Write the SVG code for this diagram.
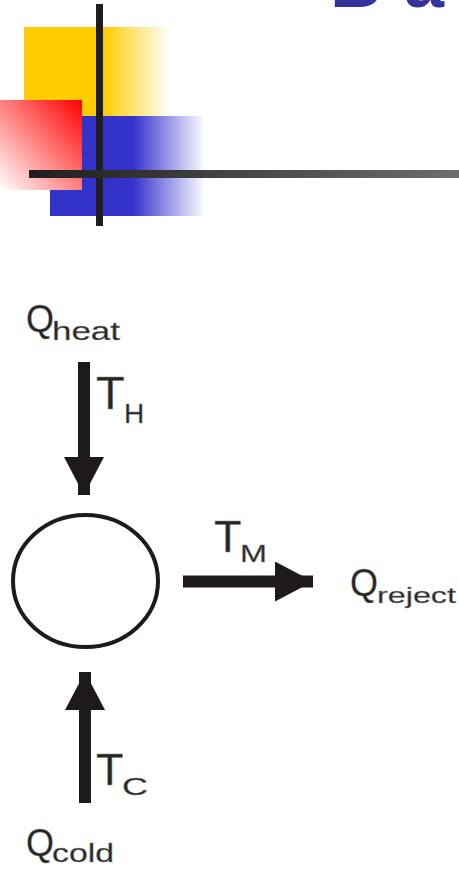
<svg xmlns="http://www.w3.org/2000/svg" width="459" height="878" viewBox="0 0 459 878">
<defs>
<linearGradient id="gY" gradientUnits="userSpaceOnUse" x1="24" y1="0" x2="170" y2="0">
<stop offset="0" stop-color="#ffcc00"/><stop offset="0.54" stop-color="#ffcc00"/><stop offset="1" stop-color="#ffcc00" stop-opacity="0"/>
</linearGradient>
<linearGradient id="gB" gradientUnits="userSpaceOnUse" x1="50" y1="0" x2="205" y2="0">
<stop offset="0" stop-color="#3333cc"/><stop offset="0.535" stop-color="#3333cc"/><stop offset="1" stop-color="#3333cc" stop-opacity="0"/>
</linearGradient>
<linearGradient id="gR" x1="1" y1="0" x2="0" y2="1">
<stop offset="0" stop-color="#ff0000"/><stop offset="1" stop-color="#ffffff"/>
</linearGradient>
<linearGradient id="gL" gradientUnits="userSpaceOnUse" x1="29" y1="0" x2="459" y2="0">
<stop offset="0" stop-color="#1e1e1e"/><stop offset="1" stop-color="#6e6e6e"/>
</linearGradient>
<marker id="ah" markerUnits="userSpaceOnUse" viewBox="0 0 38 40" refX="38" refY="20" markerWidth="38" markerHeight="40" orient="auto">
<path d="M0,0 L38,20 L0,40 Z" fill="#1e1a1a"/>
</marker>
</defs>
<style>
.lbl{font-family:"Liberation Sans",Arial,sans-serif;fill:#262626;stroke:#8a8a8a;stroke-width:0.4}
.shaft{stroke:#1e1a1a;stroke-width:12;fill:none}
</style>
<g id="decoration">
<rect x="24" y="27" width="146" height="89" fill="url(#gY)"/>
<rect x="50" y="116" width="155" height="100" fill="url(#gB)"/>
<rect x="0" y="100" width="82" height="90" fill="url(#gR)"/>
<rect x="96" y="4" width="7" height="222" fill="#1e1e1e"/>
<rect x="29" y="170" width="430" height="8" fill="url(#gL)"/>
<text x="330 404" y="7" font-family="Liberation Sans, Arial, sans-serif" font-weight="bold" font-size="72" fill="#333399">Ba</text>
</g>
<g id="engine">
<ellipse cx="85.5" cy="581" rx="72.5" ry="66" fill="none" stroke="#1e1a1a" stroke-width="4"/>
</g>
<g id="connectors">
<line class="shaft" x1="84" y1="362" x2="84" y2="495" marker-end="url(#ah)"/>
<line class="shaft" x1="183" y1="581.5" x2="313" y2="581.5" marker-end="url(#ah)"/>
<line class="shaft" x1="85" y1="803" x2="85" y2="672" marker-end="url(#ah)"/>
</g>
<g id="q-heat">
<text class="lbl" x="26" y="332" font-size="38" textLength="28" lengthAdjust="spacingAndGlyphs">Q</text>
<text class="lbl" x="52" y="340" font-size="25" textLength="68" lengthAdjust="spacingAndGlyphs">heat</text>
</g>
<g id="t-h">
<text class="lbl" x="96" y="409" font-size="47">T</text>
<text class="lbl" x="124" y="423" font-size="28">H</text>
</g>
<g id="t-m">
<text class="lbl" x="214" y="552" font-size="45">T</text>
<text class="lbl" x="240" y="562" font-size="24" textLength="27" lengthAdjust="spacingAndGlyphs">M</text>
</g>
<g id="q-reject">
<text class="lbl" x="350" y="596" font-size="38" textLength="28" lengthAdjust="spacingAndGlyphs">Q</text>
<text class="lbl" x="377" y="603" font-size="22" textLength="79" lengthAdjust="spacingAndGlyphs">reject</text>
</g>
<g id="t-c">
<text class="lbl" x="96" y="785" font-size="45">T</text>
<text class="lbl" x="122" y="795" font-size="24" textLength="26" lengthAdjust="spacingAndGlyphs">C</text>
</g>
<g id="q-cold">
<text class="lbl" x="26" y="856" font-size="38" textLength="28" lengthAdjust="spacingAndGlyphs">Q</text>
<text class="lbl" x="52" y="862" font-size="26" textLength="62" lengthAdjust="spacingAndGlyphs">cold</text>
</g>
</svg>
